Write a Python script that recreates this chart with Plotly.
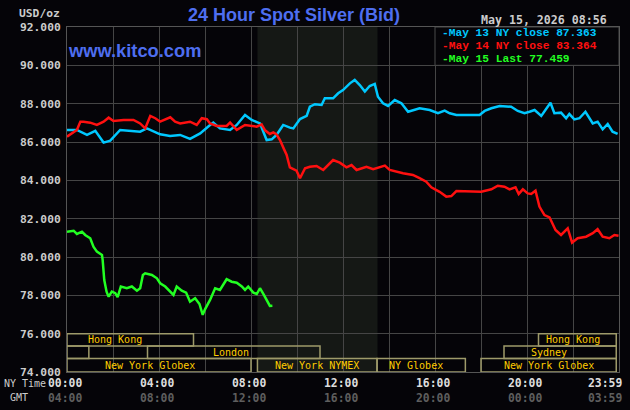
import plotly.graph_objects as go

# ---------------- data ----------------
# hours since 00:00 NY time, price in USD/oz
may13_t = [0, 0.43, 0.87, 1.23, 1.59, 1.88, 2.31, 2.75, 3.18, 3.47, 4.05, 4.48, 4.92, 5.35, 5.79,
           6.22, 6.36, 6.65, 7.09, 7.38, 7.74, 8.03, 8.25, 8.39, 8.68, 8.9, 9.11, 9.4, 9.69, 9.84,
           10.13, 10.42, 10.56, 10.78, 11.07, 11.21, 11.57, 11.79, 12.0, 12.3, 12.51, 12.73, 12.95,
           13.16, 13.38, 13.52, 13.74, 13.96, 14.25, 14.54, 14.83, 15.04, 15.33, 15.77, 16.13, 16.42,
           16.64, 16.93, 17.94, 18.16, 18.45, 18.81, 19.31, 19.6, 19.89, 20.11, 20.33, 20.62, 20.83,
           21.02, 21.19, 21.48, 21.7, 21.84, 22.06, 22.28, 22.54, 22.86, 23.07, 23.29, 23.51, 23.72, 23.94]
may13_v = [86.63, 86.63, 86.37, 86.58, 85.97, 86.07, 86.63, 86.59, 86.54, 86.71, 86.40, 86.31, 86.37, 86.16, 86.45,
           86.89, 87.01, 86.71, 86.63, 86.89, 87.41, 87.15, 87.06, 86.97, 86.10, 86.14, 86.37, 86.89, 86.75, 86.71,
           87.20, 87.36, 87.84, 87.97, 87.93, 88.28, 88.28, 88.54, 88.71, 89.06, 89.24, 88.97, 88.63,
           88.92, 89.03, 88.36, 88.02, 87.88, 88.19, 88.02, 87.58, 87.67, 87.76, 87.67, 87.50, 87.64,
           87.50, 87.41, 87.41, 87.62, 87.76, 87.88, 87.84, 87.62, 87.50, 87.58, 87.67, 87.36, 87.76,
           88.05, 87.50, 87.53, 87.24, 87.46, 87.18, 87.24, 87.58, 86.97, 87.06, 86.66, 86.94, 86.54, 86.42]

may14_t = [0, 0.43, 0.58, 0.72, 1.01, 1.3, 1.59, 1.81, 2.02, 2.46, 2.89, 3.18, 3.4, 3.62, 3.84, 4.05,
           4.49, 4.7, 4.92, 5.35, 5.64, 5.86, 6.08, 6.22, 6.51, 6.94, 7.09, 7.38, 7.74, 7.96, 8.25, 8.46,
           8.61, 8.82, 8.97, 9.11, 9.26, 9.4, 9.55, 9.69, 9.98, 10.13, 10.35, 10.56, 10.85, 11.14, 11.57,
           11.86, 12.15, 12.37, 12.59, 13.02, 13.31, 13.82, 14.03, 14.61, 15.04, 15.33, 15.62, 15.84,
           16.2, 16.49, 16.71, 16.93, 18.01, 18.45, 18.73, 19.02, 19.24, 19.5, 19.64, 19.82, 20.03, 20.18,
           20.37, 20.54, 20.76, 20.98, 21.24, 21.48, 21.77, 21.96, 22.2, 22.57, 22.86, 23.07, 23.29,
           23.58, 23.8, 23.98]
may14_v = [86.28, 86.63, 87.06, 87.06, 87.01, 86.89, 87.06, 87.27, 87.10, 87.15, 87.15, 86.97, 86.71, 87.36, 87.24, 87.06,
           87.29, 87.06, 86.97, 87.06, 86.89, 87.24, 87.19, 86.97, 86.84, 86.84, 87.01, 86.63, 86.89, 86.85, 86.80, 86.92,
           86.61, 86.42, 86.50, 86.40, 86.10, 85.72, 85.32, 84.67, 84.50, 84.11, 84.63, 84.71, 84.75, 84.54, 85.06,
           84.92, 84.68, 84.80, 84.54, 84.71, 84.58, 84.77, 84.54, 84.37, 84.28, 84.11, 83.93, 83.64,
           83.40, 83.15, 83.18, 83.44, 83.41, 83.53, 83.72, 83.67, 83.53, 83.64, 83.29, 83.53, 83.32, 83.29,
           83.46, 82.63, 82.19, 82.07, 81.41, 81.15, 81.50, 80.75, 80.98, 81.06, 81.24, 81.45, 81.06,
           80.98, 81.15, 81.11]

may15_t = [0, 0.29, 0.43, 0.65, 0.79, 1.01, 1.15, 1.3, 1.52, 1.55, 1.62, 1.72, 1.81, 1.95, 2.1, 2.2,
           2.34, 2.6, 2.82, 3.04, 3.18, 3.3, 3.4, 3.69, 3.91, 4.05, 4.27, 4.48, 4.63, 4.77, 4.99, 5.18,
           5.35, 5.57, 5.76, 5.9, 6.0, 6.22, 6.44, 6.65, 6.94, 7.16, 7.38, 7.6, 7.74, 7.88, 8.1, 8.25,
           8.39, 8.56, 8.71, 8.82, 8.93]
may15_v = [81.32, 81.37, 81.20, 81.32, 81.15, 80.98, 80.54, 80.28, 80.11, 79.85, 78.80, 78.19, 77.93, 78.19, 78.11, 77.90,
           78.46, 78.37, 78.46, 78.24, 78.37, 79.06, 79.15, 79.06, 78.89, 78.63, 78.46, 78.19, 78.02, 78.46, 78.24, 78.14,
           77.67, 77.85, 77.55, 76.98, 77.27, 77.76, 78.37, 78.28, 78.84, 78.71, 78.66, 78.46, 78.28, 78.46, 78.14, 78.07,
           78.37, 78.02, 77.67, 77.45, 77.46]

legend_texts = ["-May 13 NY close 87.363", "-May 14 NY close 83.364", "-May 15 Last 77.459"]
series_colors = ["#00C8FF", "#FF1010", "#22FF22"]

ny_tick_hours = [0, 4, 8, 12, 16, 20]
ny_tick_labels = ["00:00", "04:00", "08:00", "12:00", "16:00", "20:00"]
gmt_tick_labels = ["04:00", "08:00", "12:00", "16:00", "20:00", "00:00"]
last_ny_label, last_gmt_label = "23:59", "03:59"

# sessions: (row, start hour, end hour, label, label centre hour)
sessions = [
    (1, 0.0, 5.5, "Hong Kong", 2.1),
    (1, 20.5, 23.88, "Hong Kong", 22.02),
    (2, 0.0, 0.95, "", None),
    (2, 3.5, 11.0, "London", 7.13),
    (2, 19.0, 23.88, "Sydney", 20.95),
    (3, 0.0, 8.0, "New York Globex", 3.62),
    (3, 8.28, 13.48, "New York NYMEX", 10.86),
    (3, 13.48, 17.32, "NY Globex", 15.16),
    (3, 18.0, 23.88, "New York Globex", 20.95),
]
row_bounds = {1: (75.36, 76.0), 2: (74.70, 75.36), 3: (74.0, 74.70)}
nymex_open, nymex_close = 8.28, 13.5

# ---------------- layout helpers ----------------
W, H = 630, 410
ML, MR, MT, MB = 67, 11, 27, 38
PW, PH = W - ML - MR, H - MT - MB
BG = "#050408"
MONO = "DejaVu Sans Mono"


def px2x(px):
    return (px - ML) / PW


def py2y(py):
    return (H - MB - py) / PH


fig = go.Figure()
for t, v, c in zip([may13_t, may14_t, may15_t], [may13_v, may14_v, may15_v], series_colors):
    fig.add_trace(go.Scatter(x=t, y=v, mode="lines", line=dict(color=c, width=2.5), hoverinfo="skip",
                             showlegend=False))

shapes = []
# NYMEX floor shading
shapes.append(dict(type="rect", xref="x", yref="y", x0=nymex_open, x1=nymex_close, y0=74, y1=92,
                   fillcolor="#151815", line=dict(width=0), layer="below"))
# legend box
shapes.append(dict(type="rect", xref="x", yref="y", x0=16.0, x1=24, y0=90.0, y1=92,
                   fillcolor=BG, line=dict(color="#4a4a4a", width=1), layer="between"))
# session boxes
for row, s, e, lab, lc in sessions:
    y0, y1 = row_bounds[row]
    shapes.append(dict(type="rect", xref="x", yref="y", x0=s, x1=e, y0=y0, y1=y1,
                       fillcolor="rgba(0,0,0,0)", line=dict(color="#9E9A6A", width=1.5), layer="above"))

ann = []
# title etc
ann.append(dict(text="<b>24 Hour Spot Silver (Bid)</b>", x=px2x(294), y=py2y(15), xref="paper", yref="paper",
                showarrow=False, xanchor="center", yanchor="middle",
                font=dict(family="Liberation Sans", size=18, color="#4E6EF0")))
ann.append(dict(text="<b>www.kitco.com</b>", x=px2x(66), y=py2y(50), xref="paper", yref="paper",
                showarrow=False, xanchor="left", yanchor="middle",
                font=dict(family="Liberation Sans", size=18.3, color="#4E6EF0")))
ann.append(dict(text="<b>May 15, 2026 08:56</b>", x=px2x(609), y=py2y(20.5), xref="paper", yref="paper",
                showarrow=False, xanchor="right", yanchor="middle",
                font=dict(family=MONO, size=11.6, color="#CCCCCC")))
ann.append(dict(text="<b>USD/oz</b>", x=px2x(62), y=py2y(13.5), xref="paper", yref="paper",
                showarrow=False, xanchor="right", yanchor="middle",
                font=dict(family=MONO, size=11.3, color="#CCCCCC")))
for i, (txt, c) in enumerate(zip(legend_texts, series_colors)):
    ann.append(dict(text="<b>" + txt + "</b>", x=px2x(441), y=py2y(33.3 + 12.9 * i), xref="paper", yref="paper",
                    showarrow=False, xanchor="left", yanchor="middle", borderpad=0,
                    font=dict(family="Liberation Mono", size=11.2, color=c)))
# x tick labels
for h, a, b in zip(ny_tick_hours, ny_tick_labels, gmt_tick_labels):
    ann.append(dict(text="<b>" + a + "</b>", x=h, y=py2y(383), xref="x", yref="paper", xshift=-2,
                    showarrow=False, xanchor="center", yanchor="middle",
                    font=dict(family=MONO, size=11.4, color="#DDDDDD")))
    ann.append(dict(text="<b>" + b + "</b>", x=h, y=py2y(397.5), xref="x", yref="paper", xshift=-2,
                    showarrow=False, xanchor="center", yanchor="middle",
                    font=dict(family=MONO, size=11.4, color="#5E5E5E")))
ann.append(dict(text="<b>" + last_ny_label + "</b>", x=24, y=py2y(383), xref="x", yref="paper", xshift=5,
                showarrow=False, xanchor="right", yanchor="middle",
                font=dict(family=MONO, size=11.4, color="#DDDDDD")))
ann.append(dict(text="<b>" + last_gmt_label + "</b>", x=24, y=py2y(397.5), xref="x", yref="paper", xshift=5,
                showarrow=False, xanchor="right", yanchor="middle",
                font=dict(family=MONO, size=11.4, color="#5E5E5E")))
ann.append(dict(text="NY Time", x=px2x(2), y=py2y(383), xref="paper", yref="paper",
                showarrow=False, xanchor="left", yanchor="middle",
                font=dict(family=MONO, size=10, color="#CCCCCC")))
ann.append(dict(text="GMT", x=px2x(19), y=py2y(397.5), xref="paper", yref="paper",
                showarrow=False, xanchor="center", yanchor="middle",
                font=dict(family=MONO, size=10, color="#CCCCCC")))
# session labels
for row, s, e, lab, lc in sessions:
    if lab:
        y0, y1 = row_bounds[row]
        ann.append(dict(text=lab, x=lc, y=(y0 + y1) / 2, xref="x", yref="y", showarrow=False,
                        xanchor="center", yanchor="middle",
                        font=dict(family=MONO, size=10, color="#FFCC00")))

fig.update_layout(
    width=W, height=H, margin=dict(l=ML, r=MR, t=MT, b=MB, pad=0),
    paper_bgcolor=BG, plot_bgcolor=BG, showlegend=False,
    shapes=shapes, annotations=ann,
    xaxis=dict(range=[0, 24], tickvals=list(range(0, 25, 2)), showticklabels=False, ticks="",
               showgrid=True, gridcolor="#454545", gridwidth=1, zeroline=False,
               showline=True, linecolor="#555555", linewidth=1, mirror=True, fixedrange=True),
    yaxis=dict(range=[74, 92], tickvals=list(range(74, 93, 2)), tickformat=".3f", ticks="",
               showgrid=True, gridcolor="#454545", gridwidth=1, zeroline=False,
               showline=True, linecolor="#555555", linewidth=1, mirror=True,
               tickfont=dict(family=MONO, size=11.3, color="#CCCCCC", weight="bold"),
               ticklabelstandoff=3, fixedrange=True),
)

fig.write_html("out.html", config={"displayModeBar": False})
